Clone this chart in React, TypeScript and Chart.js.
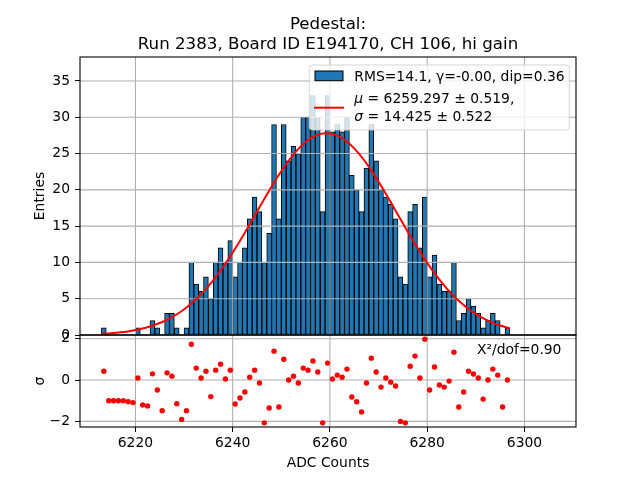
import React, { useEffect, useRef } from "react";
import { Chart, registerables } from "chart.js";

Chart.register(...registerables);

const titleLines = ["Pedestal:", "Run 2383, Board ID E194170, CH 106, hi gain"];
const xLabel = "ADC Counts";
const yLabelTop = "Entries";
const yLabelBottom = "σ";
const legendHist = "RMS=14.1, γ=-0.00, dip=0.36";
const legendFit1 = ["μ", " = 6259.297 ± 0.519,"];
const legendFit2 = ["σ", " = 14.425 ± 0.522"];
const chiText = "X²/dof=0.90";

// histogram bins (left edge, width 1 ADC count)
const adcBins = [
  6213, 6214, 6215, 6216, 6217, 6218, 6219, 6220, 6221, 6222,
  6223, 6224, 6225, 6226, 6227, 6228, 6229, 6230, 6231, 6232,
  6233, 6234, 6235, 6236, 6237, 6238, 6239, 6240, 6241, 6242,
  6243, 6244, 6245, 6246, 6247, 6248, 6249, 6250, 6251, 6252,
  6253, 6254, 6255, 6256, 6257, 6258, 6259, 6260, 6261, 6262,
  6263, 6264, 6265, 6266, 6267, 6268, 6269, 6270, 6271, 6272,
  6273, 6274, 6275, 6276, 6277, 6278, 6279, 6280, 6281, 6282,
  6283, 6284, 6285, 6286, 6287, 6288, 6289, 6290, 6291, 6292,
  6293, 6294, 6295, 6296,
];

const counts = [
  1, 0, 0, 0, 0, 0, 0, 1, 0, 0,
  2, 1, 0, 3, 3, 1, 0, 1, 10, 7,
  6, 8, 5, 10, 12, 10, 13, 8, 10, 12,
  16, 19, 17, 10, 14, 29, 16, 29, 24, 26,
  25, 30, 30, 33, 30, 17, 33, 28, 29, 28,
  30, 22, 20, 17, 23, 29, 24, 20, 19, 18,
  16, 8, 7, 17, 18, 12, 19, 8, 11, 7,
  6, 6, 10, 2, 3, 5, 4, 3, 1, 2,
  3, 2, 0, 1,
];

const residuals = [
  0.43, -1.0, -1.0, -1.0, -1.0, -1.05, -1.09, 0.1, -1.2, -1.25,
  0.3, -0.48, -1.48, 0.35, 0.19, -1.14, -1.91, -1.48, 1.73, 0.58,
  0.1, 0.43, -0.8, 0.48, 0.77, 0.05, 0.48, -1.16, -0.87, -0.58,
  0.14, 0.48, -0.14, -2.07, -1.35, 1.4, -1.3, 1.01, 0.0, 0.19,
  -0.14, 0.58, 0.48, 0.92, 0.39, -2.07, 0.82, 0.05, 0.24, 0.14,
  0.53, -0.82, -1.05, -1.54, -0.14, 1.06, 0.39, -0.34, 0.1, -0.1,
  -0.29, -2.0, -2.07, 0.67, 1.16, 0.1, 1.98, -0.48, 0.63, -0.24,
  -0.34, -0.05, 1.35, -1.3, -0.58, 0.43, 0.29, 0.1, -0.92, 0.0,
  0.53, 0.24, -1.3, 0.0,
];

// fitted gaussian curve, sampled
const fitX = [
  6213, 6215, 6217, 6219, 6221, 6223, 6225, 6227, 6229, 6231,
  6233, 6235, 6237, 6239, 6241, 6243, 6245, 6247, 6249, 6251,
  6253, 6255, 6257, 6259, 6261, 6263, 6265, 6267, 6269, 6271,
  6273, 6275, 6277, 6279, 6281, 6283, 6285, 6287, 6289, 6291,
  6293, 6295, 6297,
];
const fitY = [
  0.16, 0.25, 0.38, 0.56, 0.82, 1.17, 1.65, 2.27, 3.06, 4.06,
  5.27, 6.73, 8.42, 10.33, 12.43, 14.68, 17.01, 19.33, 21.55, 23.56,
  25.27, 26.59, 27.45, 27.79, 27.61, 26.9, 25.71, 24.11, 22.17, 20.01,
  17.71, 15.38, 13.1, 10.94, 8.97, 7.21, 5.69, 4.4, 3.34, 2.49,
  1.82, 1.3, 0.91,
];

const xTicks = [6220, 6240, 6260, 6280, 6300];
const entryTicks = [0, 5, 10, 15, 20, 25, 30, 35];
const sigmaTicks = [-2, 0, 2];
const xRange = [6208.6, 6310.6];
const entryRange = [0, 38.3];
const sigmaRange = [-2.27, 2.18];

const FONT = '"DejaVu Sans", "Liberation Sans", sans-serif';
const TICK_SIZE = 13.89;
const TITLE_SIZE = 16.67;
const BLUE = "#1f77b4";

const fmtMinus = (v: number) => (v < 0 ? "\u2212" + Math.abs(v) : String(v));

const decorPlugin = {
  id: "decor",
  afterDatasetDraw(chart: any, args: any) {
    if (args.index !== 0) return;
    const ctx = chart.ctx;
    const { left, right, top, bottom } = chart.chartArea;
    const xs = chart.scales.x;
    const yh = chart.scales.yHist;
    const yr = chart.scales.yRes;
    ctx.save();
    ctx.strokeStyle = "#b0b0b0";
    ctx.lineWidth = 1.1;
    ctx.beginPath();
    xTicks.forEach((v) => {
      const p = xs.getPixelForValue(v);
      ctx.moveTo(p, top);
      ctx.lineTo(p, bottom);
    });
    entryTicks.forEach((v) => {
      const p = yh.getPixelForValue(v);
      ctx.moveTo(left, p);
      ctx.lineTo(right, p);
    });
    sigmaTicks.forEach((v) => {
      const p = yr.getPixelForValue(v);
      ctx.moveTo(left, p);
      ctx.lineTo(right, p);
    });
    ctx.stroke();
    ctx.restore();
  },
  afterDraw(chart: any) {
    const ctx = chart.ctx;
    const { left, right, top, bottom } = chart.chartArea;
    const yh = chart.scales.yHist;
    const yr = chart.scales.yRes;
    const cx = (left + right) / 2;
    ctx.save();
    // spines
    ctx.strokeStyle = "#000";
    ctx.lineWidth = 1.1;
    ctx.strokeRect(left, yh.top, right - left, yh.bottom - yh.top);
    ctx.strokeRect(left, yr.top, right - left, yr.bottom - yr.top);

    // title
    ctx.fillStyle = "#000";
    ctx.textAlign = "center";
    ctx.textBaseline = "alphabetic";
    ctx.font = `${TITLE_SIZE}px ${FONT}`;
    ctx.fillText(titleLines[0], cx, top - 28.5);
    ctx.fillText(titleLines[1], cx, top - 8.5);

    // axis labels
    ctx.font = `${TICK_SIZE}px ${FONT}`;
    ctx.fillText(xLabel, cx, bottom + 40);
    ctx.textBaseline = "middle";
    ctx.save();
    ctx.translate(40, (yh.top + yh.bottom) / 2);
    ctx.rotate(-Math.PI / 2);
    ctx.fillText(yLabelTop, 0, 0);
    ctx.restore();
    ctx.save();
    ctx.translate(40, (yr.top + yr.bottom) / 2);
    ctx.rotate(-Math.PI / 2);
    ctx.fillText(yLabelBottom, 0, 0);
    ctx.restore();

    // chi2 text
    ctx.textAlign = "left";
    ctx.textBaseline = "alphabetic";
    ctx.fillText(chiText, right - 99, yr.top + 19);

    // legend
    const bx = right - 266.7;
    const by = yh.top + 8;
    const bw = 260;
    const bh = 65;
    ctx.beginPath();
    if ((ctx as any).roundRect) {
      (ctx as any).roundRect(bx, by, bw, bh, 3.5);
    } else {
      ctx.rect(bx, by, bw, bh);
    }
    ctx.fillStyle = "rgba(255,255,255,0.8)";
    ctx.fill();
    ctx.strokeStyle = "rgba(204,204,204,0.8)";
    ctx.lineWidth = 1;
    ctx.stroke();

    ctx.fillStyle = BLUE;
    ctx.fillRect(bx + 5.7, by + 6, 28, 9.7);
    ctx.strokeStyle = "#000";
    ctx.lineWidth = 1;
    ctx.strokeRect(bx + 5.7, by + 6, 28, 9.7);

    ctx.strokeStyle = "red";
    ctx.lineWidth = 2;
    ctx.beginPath();
    ctx.moveTo(bx + 4.7, by + 42.7);
    ctx.lineTo(bx + 34.7, by + 42.7);
    ctx.stroke();

    const tx = bx + 45;
    ctx.fillStyle = "#000";
    ctx.font = `${TICK_SIZE}px ${FONT}`;
    ctx.fillText(legendHist, tx, by + 15.7);

    const drawMath = (parts: string[], y: number) => {
      ctx.font = `italic ${TICK_SIZE}px ${FONT}`;
      ctx.fillText(parts[0], tx, y);
      const w = ctx.measureText(parts[0]).width;
      ctx.font = `${TICK_SIZE}px ${FONT}`;
      ctx.fillText(parts[1], tx + w, y);
    };
    drawMath(legendFit1, by + 38.3);
    drawMath(legendFit2, by + 56);
    ctx.restore();
  },
};

export default function App() {
  const canvasRef = useRef<HTMLCanvasElement | null>(null);

  useEffect(() => {
    if (!canvasRef.current) return;
    const tickFont = { family: FONT, size: TICK_SIZE };
    const histData = adcBins.map((b, i) => ({ x: b + 0.5, y: counts[i] > 0 ? counts[i] : null }));
    const resData = adcBins.map((b, i) => ({ x: b + 0.5, y: residuals[i] }));
    const fitData = fitX.map((x, i) => ({ x, y: fitY[i] }));

    const axisGrid = {
      display: true,
      drawOnChartArea: false,
      drawTicks: true,
      tickLength: 5,
      color: "#000",
      offset: false,
    };

    const chart = new Chart(canvasRef.current, {
      type: "bar",
      data: {
        datasets: [
          {
            type: "bar",
            data: histData as any,
            xAxisID: "x",
            yAxisID: "yHist",
            backgroundColor: BLUE,
            borderColor: "#000",
            borderWidth: 1,
            borderSkipped: false,
            barPercentage: 1,
            categoryPercentage: 1,
            order: 2,
          } as any,
          {
            type: "line",
            data: fitData as any,
            xAxisID: "x",
            yAxisID: "yHist",
            borderColor: "red",
            borderWidth: 2,
            pointRadius: 0,
            fill: false,
            cubicInterpolationMode: "monotone",
            order: 1,
          } as any,
          {
            type: "scatter",
            data: resData as any,
            xAxisID: "x",
            yAxisID: "yRes",
            backgroundColor: "red",
            borderWidth: 0,
            pointRadius: 2.7,
            order: 0,
          } as any,
        ],
      },
      options: {
        animation: false,
        responsive: false,
        devicePixelRatio: 1,
        layout: { padding: { top: 57, right: 64, left: 0, bottom: 0 } },
        plugins: {
          legend: { display: false },
          title: { display: false },
          tooltip: { enabled: false },
        },
        scales: {
          x: {
            type: "linear",
            min: xRange[0],
            max: xRange[1],
            offset: false,
            grid: axisGrid,
            border: { display: false },
            ticks: {
              font: tickFont,
              color: "#000",
              padding: 3,
              maxRotation: 0,
              autoSkip: false,
              callback: (v: any) => String(v),
            },
            afterBuildTicks: (s: any) => {
              s.ticks = xTicks.map((v) => ({ value: v }));
            },
            afterFit: (s: any) => {
              s.height = 53;
            },
          },
          yRes: {
            type: "linear",
            position: "left",
            stack: "v",
            stackWeight: 92,
            min: sigmaRange[0],
            max: sigmaRange[1],
            grid: axisGrid,
            border: { display: false },
            ticks: {
              font: tickFont,
              color: "#000",
              padding: 5,
              autoSkip: false,
              callback: (v: any) => fmtMinus(Number(v)),
            },
            afterBuildTicks: (s: any) => {
              s.ticks = sigmaTicks.map((v) => ({ value: v }));
            },
            afterFit: (s: any) => {
              s.width = 80;
            },
          },
          yHist: {
            type: "linear",
            position: "left",
            stack: "v",
            stackWeight: 278,
            min: entryRange[0],
            max: entryRange[1],
            grid: axisGrid,
            border: { display: false },
            ticks: {
              font: tickFont,
              color: "#000",
              padding: 5,
              autoSkip: false,
              callback: (v: any) => String(v),
            },
            afterBuildTicks: (s: any) => {
              s.ticks = entryTicks.map((v) => ({ value: v }));
            },
            afterFit: (s: any) => {
              s.width = 80;
            },
          },
        } as any,
      },
      plugins: [decorPlugin as any],
    });
    return () => chart.destroy();
  }, []);

  return (
    <div style={{ position: "absolute", left: 0, top: 0, width: 640, height: 480, background: "#fff" }}>
      <canvas ref={canvasRef} width={640} height={480} style={{ display: "block" }} />
    </div>
  );
}
